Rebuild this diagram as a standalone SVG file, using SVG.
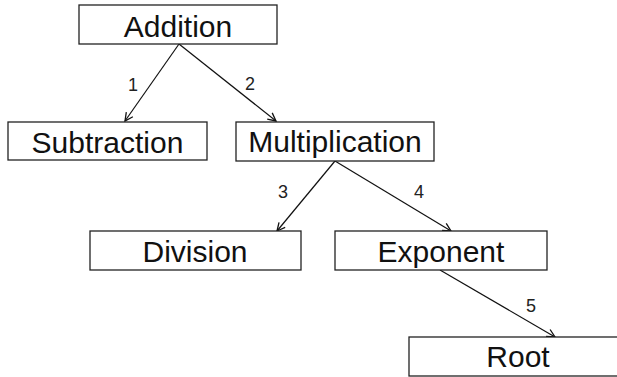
<svg xmlns="http://www.w3.org/2000/svg" width="617" height="377" viewBox="0 0 617 377">
<defs>
<style>
.box{fill:#fff;stroke:#222;stroke-width:1.3}
.t{font-family:"Liberation Sans",Arial,sans-serif;font-size:30px;fill:#111;text-anchor:middle}
.l{font-family:"Liberation Sans",Arial,sans-serif;font-size:18px;fill:#222;text-anchor:middle}
.e{stroke:#111;stroke-width:1.2;fill:none;marker-end:url(#ah)}
</style>
<marker id="ah" markerUnits="userSpaceOnUse" markerWidth="12" markerHeight="12" refX="9" refY="5" orient="auto" viewBox="0 0 12 10">
<path d="M1,1 L9,5 L1,9" fill="none" stroke="#111" stroke-width="1.3"/>
</marker>
</defs>
<rect width="617" height="377" fill="#fff"/>
<g id="connectors">
<line class="e" x1="179" y1="44" x2="125" y2="121"/>
<line class="e" x1="179" y1="44" x2="276" y2="121"/>
<line class="e" x1="335" y1="161" x2="277" y2="231"/>
<line class="e" x1="335" y1="161" x2="451" y2="231"/>
<line class="e" x1="440" y1="270" x2="555" y2="337"/>
<text class="l" x="133" y="91">1</text>
<text class="l" x="250" y="90">2</text>
<text class="l" x="283" y="198">3</text>
<text class="l" x="419" y="198">4</text>
<text class="l" x="531" y="312">5</text>
</g>
<g id="addition"><rect class="box" x="79" y="5" width="198" height="39"/><text class="t" x="178" y="37">Addition</text></g>
<g id="subtraction"><rect class="box" x="8" y="122" width="199" height="38"/><text class="t" x="107.5" y="153">Subtraction</text></g>
<g id="multiplication"><rect class="box" x="236" y="122" width="198" height="39"/><text class="t" x="335" y="152">Multiplication</text></g>
<g id="division"><rect class="box" x="90" y="231" width="211" height="39"/><text class="t" x="195" y="262">Division</text></g>
<g id="exponent"><rect class="box" x="335" y="231" width="212" height="39"/><text class="t" x="441" y="262">Exponent</text></g>
<g id="root"><rect class="box" x="409" y="337" width="218" height="39"/><text class="t" x="518" y="367">Root</text></g>
</svg>
